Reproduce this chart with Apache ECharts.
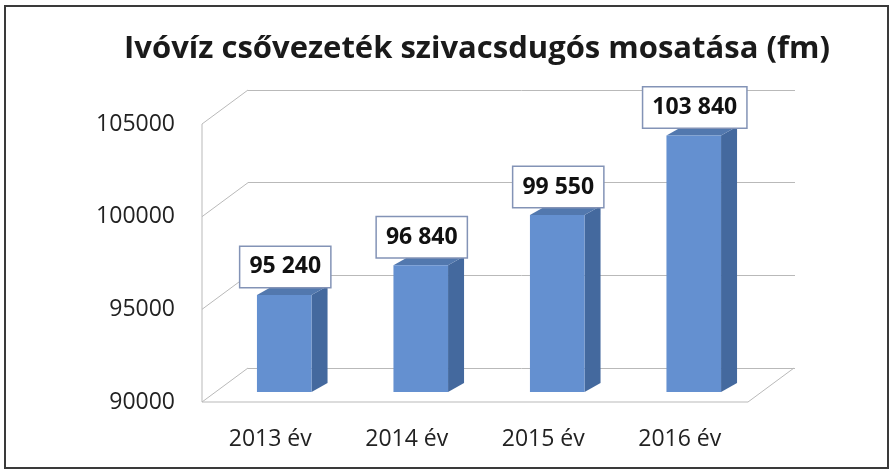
<!DOCTYPE html>
<html>
<head>
<meta charset="utf-8">
<script src="https://cdn.jsdelivr.net/npm/echarts@6/dist/echarts.min.js"></script>
<style>
  html, body { margin: 0; padding: 0; background: #fff; }
  #main { width: 895px; height: 473px; }
</style>
</head>
<body>
<div id="main"></div>
<script>
var years = ['2013 év', '2014 év', '2015 év', '2016 év'];
var values = [95240, 96840, 99550, 103840];
var yTicks = [90000, 95000, 100000, 105000];

var FONT = '"Open Sans", "Liberation Sans", sans-serif';
var DX = 46, DY = 34;          // depth of the floor / side wall
var lineColor = '#b9b9b9';

function fmt(v) {
    return String(v).replace(/\B(?=(\d{3})+(?!\d))/g, ' ');
}

// left wall + floor, drawn on the front grid
function renderWall(params, api) {
    var cs = params.coordSys;
    var y = api.coord([0, api.value(1)])[1];
    var ls = { stroke: lineColor, lineWidth: 1 };
    var children = [
        { type: 'line', shape: { x1: cs.x, y1: y, x2: cs.x + DX, y2: y - DY }, style: ls }
    ];
    if (params.dataIndex === 0) {
        children.push(
            { type: 'line', shape: { x1: cs.x, y1: cs.y, x2: cs.x, y2: cs.y + cs.height }, style: ls },
            { type: 'line', shape: { x1: cs.x, y1: y, x2: cs.x + cs.width, y2: y }, style: ls },
            { type: 'line', shape: { x1: cs.x + cs.width, y1: y, x2: cs.x + cs.width + DX, y2: y - DY }, style: ls }
        );
    }
    return { type: 'group', children: children };
}

// 3d-looking column: front, top, side + boxed label
function renderBar(params, api) {
    var i = api.value(0), v = api.value(1);
    var top = api.coord([i, v]);
    var base = api.coord([i, yTicks[0]]);
    var w = api.size([1, 0])[0] * 0.4;
    var offX = 14, offY = -10, sd = 16, sdy = -9;
    var x0 = top[0] + offX - w / 2, x1 = x0 + w;
    var yt = top[1] + offY, yb = base[1] + offY;
    return {
        type: 'group',
        children: [
            { type: 'polygon', shape: { points: [[x1, yt], [x1 + sd, yt + sdy], [x1 + sd, yb + sdy], [x1, yb]] },
              style: { fill: '#44699e' } },
            { type: 'polygon', shape: { points: [[x0, yt], [x0 + sd, yt + sdy], [x1 + sd, yt + sdy], [x1, yt]] },
              style: { fill: '#5278ae' } },
            { type: 'rect', shape: { x: x0, y: yt, width: w, height: yb - yt },
              style: { fill: '#6490d0' } },
            { type: 'text', z2: 10,
              style: {
                text: fmt(v), x: (x0 + x1) / 2 + 1, y: yt - 8,
                align: 'center', verticalAlign: 'bottom',
                font: 'bold 23px ' + FONT, fill: '#111',
                lineHeight: 28,
                backgroundColor: '#fff', borderColor: '#8393b6', borderWidth: 1.5,
                padding: [6, 9]
              } }
        ]
    };
}

var chart = echarts.init(document.getElementById('main'));
var option = {
    animation: false,
    title: {
        text: 'Ivóvíz csővezeték szivacsdugós mosatása (fm)',
        left: 472, top: 29, textAlign: 'center',
        textStyle: { fontSize: 31, fontWeight: 'bold', fontFamily: FONT, color: '#1a1a1a' }
    },
    graphic: [{
        type: 'rect', shape: { x: 5, y: 6, width: 883, height: 462 },
        style: { fill: 'none', stroke: '#3a3a3a', lineWidth: 2 }
    }],
    grid: [
        { left: 248, top: 90, width: 547, height: 278 },   // back wall
        { left: 202, top: 124, width: 546, height: 278 }   // front plane
    ],
    xAxis: [
        { gridIndex: 0, type: 'category', data: years, show: false },
        { gridIndex: 1, type: 'category', data: years,
          axisLine: { show: false }, axisTick: { show: false },
          axisLabel: { fontSize: 23, fontFamily: FONT, color: '#222', margin: 26 } }
    ],
    yAxis: [
        { gridIndex: 0, type: 'value', min: 90000, max: 105000, interval: 5000,
          axisLabel: { show: false }, axisLine: { show: false }, axisTick: { show: false },
          splitLine: { lineStyle: { color: lineColor, width: 1 } } },
        { gridIndex: 1, type: 'value', min: 90000, max: 105000, interval: 5000,
          axisLine: { show: false }, axisTick: { show: false }, splitLine: { show: false },
          axisLabel: { fontSize: 23, fontFamily: FONT, color: '#222', margin: 27,
                       formatter: function (v) { return String(v); } } }
    ],
    series: [
        { type: 'custom', name: 'walls', xAxisIndex: 1, yAxisIndex: 1, z: 1,
          renderItem: renderWall, data: yTicks.map(function (t) { return [0, t]; }) },
        { type: 'custom', name: 'mosatás', xAxisIndex: 1, yAxisIndex: 1, z: 5,
          renderItem: renderBar, data: values.map(function (v, i) { return [i, v]; }) }
    ]
};
chart.setOption(option);
</script>
</body>
</html>
